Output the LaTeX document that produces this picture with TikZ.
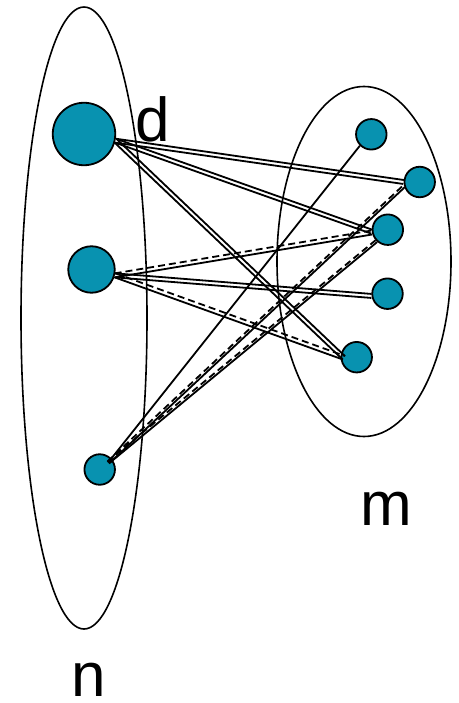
\documentclass[tikz,border=0pt]{standalone}
\usepackage{fontspec}
\setmainfont{Liberation Sans}
\usetikzlibrary{calc}
\definecolor{vfill}{HTML}{0892B0}
\tikzset{
  vertex/.style={circle, draw=black, line width=1.8pt, fill=vfill, inner sep=0pt, minimum size=#1},
  group/.style={draw=black, line width=1.6pt},
  edge/.style={draw=black, line width=1.8pt},
  dashedge/.style={edge, dash pattern=on 7pt off 4pt},
  lbl/.style={font=\fontsize{62}{70}\selectfont, anchor=base, inner sep=0pt},
}
% two parallel strokes between #1 and #2, offset +-#5 to either side;
% #3 is the style of the left-hand stroke (seen from #1), #4 the right-hand one
\newcommand\edgepair[5]{%
  \draw[#3] ($(#1)!#5!90:(#2)$) -- ($(#2)!#5!-90:(#1)$);
  \draw[#4] ($(#1)!#5!-90:(#2)$) -- ($(#2)!#5!90:(#1)$);
}
\begin{document}
\begin{tikzpicture}[x=1pt, y=-1pt]
  \useasboundingbox (0,0) rectangle (458,703);

  % the two vertex sets
  \draw[group] (84,318) ellipse [x radius=63pt, y radius=311pt];
  \draw[group] (364,261.5) ellipse [x radius=87pt, y radius=175pt];

  % left set
  \node[vertex=62.5pt] (L1) at (84,134) {};
  \node[vertex=46.5pt] (L2) at (91.5,269.5) {};
  \node[vertex=30.5pt] (L3) at (99.7,469.5) {};
  % right set
  \node[vertex=30.5pt] (R1) at (371.3,134.3) {};
  \node[vertex=30.5pt] (R2) at (419.7,182) {};
  \node[vertex=30.5pt] (R3) at (387.8,229.7) {};
  \node[vertex=30.5pt] (R4) at (387.5,293.7) {};
  \node[vertex=30.5pt] (R5) at (356.7,357.2) {};

  % inner end points of some connectors
  \coordinate (L3in) at ($(L3.center)+(8.5,-7)$);
  \coordinate (R5in) at ($(R5.center)+(-13,0.5)$);

  % connectors from L1
  \edgepair{L1.-12}{R2.180}{edge}{edge}{2pt}
  \edgepair{L1.-12}{R3.187}{edge}{edge}{2pt}
  \edgepair{L1.-12}{R5in}{edge}{edge}{2pt}
  % connectors from L2
  \edgepair{L2.-14}{R3.190}{dashedge}{edge}{2pt}
  \edgepair{L2.-14}{R4.188}{edge}{edge}{2pt}
  \edgepair{L2.-14}{R5in}{dashedge}{edge}{2pt}
  % connectors from L3
  \draw[edge] (L3in) -- (R1.225);
  \edgepair{L3in}{R2.195}{dashedge}{edge}{1.2pt}
  \edgepair{L3in}{R3.225}{dashedge}{edge}{1.2pt}

  % labels
  \node[lbl] (d) at (153,142) {d};
  \node[lbl] (m) at (386,525) {m};
  \node[lbl] (n) at (89,696) {n};
\end{tikzpicture}
\end{document}
